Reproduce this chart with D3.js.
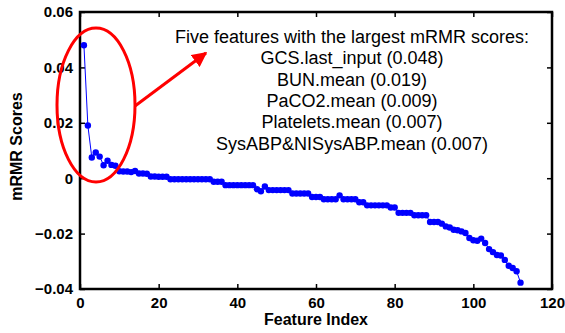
<!DOCTYPE html>
<html>
<head>
<meta charset="utf-8">
<script src="https://cdn.jsdelivr.net/npm/d3@7"></script>
<style>
  body { margin: 0; background: #fff; }
  text { font-family: "Liberation Sans", Arial, sans-serif; }
</style>
</head>
<body>
<div id="chart"></div>
<script>
// mRMR score of each feature, in order of selection (index 1..112)
const scores = [
  0.048, 0.019, 0.0075, 0.0093, 0.0078, 0.0047, 0.0063, 0.0048, 0.0045, 0.0025,
  0.0024, 0.0024, 0.0022, 0.0026, 0.0017, 0.0017, 0.0016, 0.0006, 0.0006, 0.0005,
  0.0005, 0.0005, -0.0004, -0.0004, -0.0004, -0.0004, -0.0004, -0.0004, -0.0004, -0.0004,
  -0.0004, -0.0004, -0.0004, -0.0013, -0.0013, -0.0013, -0.0025, -0.0025, -0.0025, -0.0025,
  -0.0025, -0.0025, -0.0025, -0.0025, -0.004, -0.0047, -0.003, -0.0043, -0.0043, -0.0043,
  -0.0043, -0.0043, -0.0043, -0.0055, -0.0055, -0.0055, -0.0055, -0.0055, -0.0068, -0.0068,
  -0.0068, -0.0076, -0.0076, -0.0076, -0.0076, -0.0062, -0.0076, -0.0076, -0.0076, -0.0076,
  -0.0087, -0.0087, -0.0098, -0.0098, -0.0098, -0.0098, -0.0098, -0.0098, -0.0106, -0.0106,
  -0.0125, -0.0125, -0.0125, -0.0125, -0.0134, -0.0134, -0.0134, -0.0134, -0.0158, -0.0158,
  -0.0158, -0.0164, -0.0174, -0.0178, -0.0186, -0.0188, -0.0192, -0.0198, -0.0216, -0.0224,
  -0.0226, -0.0218, -0.0234, -0.0256, -0.0267, -0.0277, -0.0279, -0.0295, -0.0316, -0.0324,
  -0.0336, -0.0377
];
const xTicks = [0, 20, 40, 60, 80, 100, 120];
const yTicks = [-0.04, -0.02, 0, 0.02, 0.04, 0.06];
const noteLines = [
  "Five features with the largest mRMR scores:",
  "GCS.last_input (0.048)",
  "BUN.mean (0.019)",
  "PaCO2.mean (0.009)",
  "Platelets.mean (0.007)",
  "SysABP&NISysABP.mean (0.007)"
];

const W = 565, H = 333;
const margin = { top: 12, right: 13, bottom: 44, left: 80 };
const width = W - margin.left - margin.right,
  height = H - margin.top - margin.bottom;

const root = d3.select("#chart").append("svg")
  .attr("width", W).attr("height", H);
const svg = root.append("g")
  .attr("transform", `translate(${margin.left},${margin.top})`);

const x = d3.scaleLinear().domain([0, 120]).range([0, width]);
const y = d3.scaleLinear().domain([-0.04, 0.06]).range([height, 0]);

const fmtY = d => d === 0 ? "0" : d3.format(".2f")(d);

// axes with inward ticks (matlab style)
const axB = svg.append("g").attr("transform", `translate(0,${height})`)
  .call(d3.axisBottom(x).tickValues(xTicks).tickSize(-5).tickPadding(8));
const axT = svg.append("g")
  .call(d3.axisTop(x).tickValues(xTicks).tickSize(-5).tickFormat(""));
const axL = svg.append("g")
  .call(d3.axisLeft(y).tickValues(yTicks).tickSize(-5).tickPadding(7).tickFormat(fmtY));
const axR = svg.append("g").attr("transform", `translate(${width},0)`)
  .call(d3.axisRight(y).tickValues(yTicks).tickSize(-5).tickFormat(""));

[axB, axT, axL, axR].forEach(a => {
  a.select(".domain").remove();
  a.selectAll(".tick line").attr("stroke", "#000").attr("stroke-width", 1.5);
  a.selectAll(".tick text").attr("fill", "#000")
    .style("font-size", "15px").style("font-weight", "bold");
});

// box
svg.append("rect")
  .attr("x", 0).attr("y", 0).attr("width", width).attr("height", height)
  .attr("fill", "none").attr("stroke", "#000").attr("stroke-width", 2.5);

// series
const pts = scores.map((v, i) => [x(i + 1), y(v)]);
svg.append("path")
  .datum(pts)
  .attr("fill", "none")
  .attr("stroke", "#0000ff")
  .attr("stroke-width", 1)
  .attr("d", d3.line());
svg.selectAll("circle.pt")
  .data(pts)
  .enter().append("circle")
  .attr("class", "pt")
  .attr("cx", d => d[0]).attr("cy", d => d[1])
  .attr("r", 3.2)
  .attr("fill", "#0000ff");

// axis labels
root.append("text")
  .attr("x", margin.left + width / 2).attr("y", 325)
  .attr("text-anchor", "middle")
  .style("font-size", "16px").style("font-weight", "bold")
  .text("Feature Index");
root.append("text")
  .attr("transform", `translate(22,${margin.top + height / 2 - 4}) rotate(-90)`)
  .attr("text-anchor", "middle")
  .style("font-size", "16px").style("font-weight", "bold")
  .text("mRMR Scores");

// red ellipse around the top features + arrow
root.append("ellipse")
  .attr("cx", 96).attr("cy", 105).attr("rx", 39).attr("ry", 77)
  .attr("fill", "none").attr("stroke", "#ff0000").attr("stroke-width", 3);

root.append("defs").append("marker")
  .attr("id", "head").attr("viewBox", "0 0 10 10")
  .attr("refX", 9).attr("refY", 5)
  .attr("markerWidth", 5).attr("markerHeight", 5)
  .attr("markerUnits", "strokeWidth")
  .attr("orient", "auto")
  .append("path").attr("d", "M0,0 L10,5 L0,10 Z").attr("fill", "#ff0000");
root.append("line")
  .attr("x1", 135).attr("y1", 106).attr("x2", 206).attr("y2", 53)
  .attr("stroke", "#ff0000").attr("stroke-width", 3)
  .attr("marker-end", "url(#head)");

// annotation text
root.append("g").selectAll("text")
  .data(noteLines)
  .enter().append("text")
  .attr("x", 352)
  .attr("y", (d, i) => 43 + i * 21.3)
  .attr("text-anchor", "middle")
  .style("font-size", "18px")
  .attr("fill", "#000")
  .text(d => d);
</script>
</body>
</html>
